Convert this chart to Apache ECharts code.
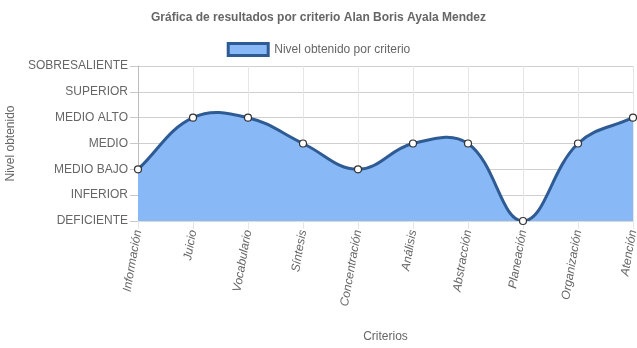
<!DOCTYPE html>
<html><head><meta charset="utf-8">
<script src="https://cdn.jsdelivr.net/npm/echarts@6/dist/echarts.min.js"></script>
<style>html,body{margin:0;padding:0;background:#fff}#c{width:637px;height:348px}</style>
</head><body><div id="c"></div>
<script>
const categories = ['Información','Juicio','Vocabulario','Síntesis','Concentración','Análisis','Abstracción','Planeación','Organización','Atención'];
const levels = ['DEFICIENTE','INFERIOR','MEDIO BAJO','MEDIO','MEDIO ALTO','SUPERIOR','SOBRESALIENTE'];
const values = [2,4,4,3,2,3,3,0,3,4];
const seriesName = 'Nivel obtenido por criterio';
const titleText = 'Gráfica de resultados por criterio Alan Boris Ayala Mendez';

const FONT = '"Liberation Sans", Arial, sans-serif';
const TENSION = 0.4;
const LINE = '#2f5b94', FILL = '#88b8f5';

// Chart.js-style cubic spline through points converted by the axis scales
function buildPath(api, closeToBase) {
  const pts = values.map((v, i) => api.coord([i, v]));
  const n = pts.length;
  const cps = pts.map((c, i) => {
    const p = i > 0 ? pts[i - 1] : c;
    const nx = i < n - 1 ? pts[i + 1] : c;
    const d01 = Math.hypot(c[0] - p[0], c[1] - p[1]);
    const d12 = Math.hypot(nx[0] - c[0], nx[1] - c[1]);
    let s01 = d01 / (d01 + d12), s12 = d12 / (d01 + d12);
    if (isNaN(s01)) s01 = 0; if (isNaN(s12)) s12 = 0;
    const fa = TENSION * s01, fb = TENSION * s12;
    return {
      prev: [c[0] - fa * (nx[0] - p[0]), c[1] - fa * (nx[1] - p[1])],
      next: [c[0] + fb * (nx[0] - p[0]), c[1] + fb * (nx[1] - p[1])]
    };
  });
  let d = 'M' + pts[0][0] + ' ' + pts[0][1];
  for (let i = 1; i < n; i++) {
    const a = cps[i - 1].next, b = cps[i].prev, c = pts[i];
    d += ' C' + a[0] + ' ' + a[1] + ' ' + b[0] + ' ' + b[1] + ' ' + c[0] + ' ' + c[1];
  }
  if (closeToBase) {
    const base0 = api.coord([0, 0]), baseN = api.coord([n - 1, 0]);
    d += ' L' + pts[n - 1][0] + ' ' + baseN[1] + ' L' + pts[0][0] + ' ' + base0[1] + ' Z';
  }
  return d;
}

const chart = echarts.init(document.getElementById('c'), null, {renderer:'canvas'});
chart.setOption({
  animation:false,
  textStyle:{fontFamily:FONT},
  title:{text:titleText,left:'center',top:7,textStyle:{fontFamily:FONT,fontSize:12,fontWeight:'bold',color:'#666'}},
  legend:{
    top:37,left:'center',itemWidth:40,itemHeight:12,
    textStyle:{fontFamily:FONT,fontSize:12,color:'#666',padding:[0,0,0,1]},
    data:[{name:seriesName,icon:'rect',itemStyle:{color:FILL,borderColor:LINE,borderWidth:3},lineStyle:{width:0}}]
  },
  grid:{left:138,right:4,top:66,bottom:127,containLabel:false,outerBoundsMode:'none'},
  xAxis:{
    type:'category',data:categories,boundaryGap:false,
    name:'Criterios',nameLocation:'middle',nameGap:110,
    nameTextStyle:{fontFamily:FONT,fontSize:12,color:'#666'},
    axisLine:{show:true,lineStyle:{color:'#d9d9d9'}},
    axisTick:{show:true,length:8,lineStyle:{color:'#e6e6e6'}},
    axisLabel:{rotate:80,margin:9,fontFamily:FONT,fontSize:12,fontStyle:'italic',color:'#666',interval:0},
    splitLine:{show:true,lineStyle:{color:'#e6e6e6'}}
  },
  yAxis:{
    type:'value',min:0,max:6,interval:1,
    name:'Nivel obtenido',nameLocation:'middle',nameGap:117,nameRotate:90,
    nameTextStyle:{fontFamily:FONT,fontSize:12,color:'#666'},
    axisLine:{show:true,lineStyle:{color:'#bdbdbd'}},
    axisTick:{show:true,length:8,lineStyle:{color:'#c8c8c8'}},
    axisLabel:{margin:10,fontFamily:FONT,fontSize:12,color:'#666',formatter:v=>levels[v]||''},
    splitLine:{show:true,lineStyle:{color:'#cfcfcf'}}
  },
  series:[
    {
      name:'curve',type:'custom',coordinateSystem:'cartesian2d',
      data:values.map((v,i)=>[i,v]),
      silent:true,z:2,clip:true,
      renderItem:function(params, api){
        if (params.dataIndex !== 0) return;
        return {type:'group',children:[
          {type:'path',shape:{pathData:buildPath(api,true)},style:{fill:FILL,stroke:null}},
          {type:'path',shape:{pathData:buildPath(api,false)},style:{fill:null,stroke:LINE,lineWidth:3}}
        ]};
      }
    },
    {
      name:seriesName,type:'line',data:values,
      symbol:'circle',symbolSize:7,showSymbol:true,
      lineStyle:{width:0,opacity:0},
      itemStyle:{color:'#ffffff',borderColor:'#333',borderWidth:1.2},
      z:3
    }
  ]
});
</script></body></html>
